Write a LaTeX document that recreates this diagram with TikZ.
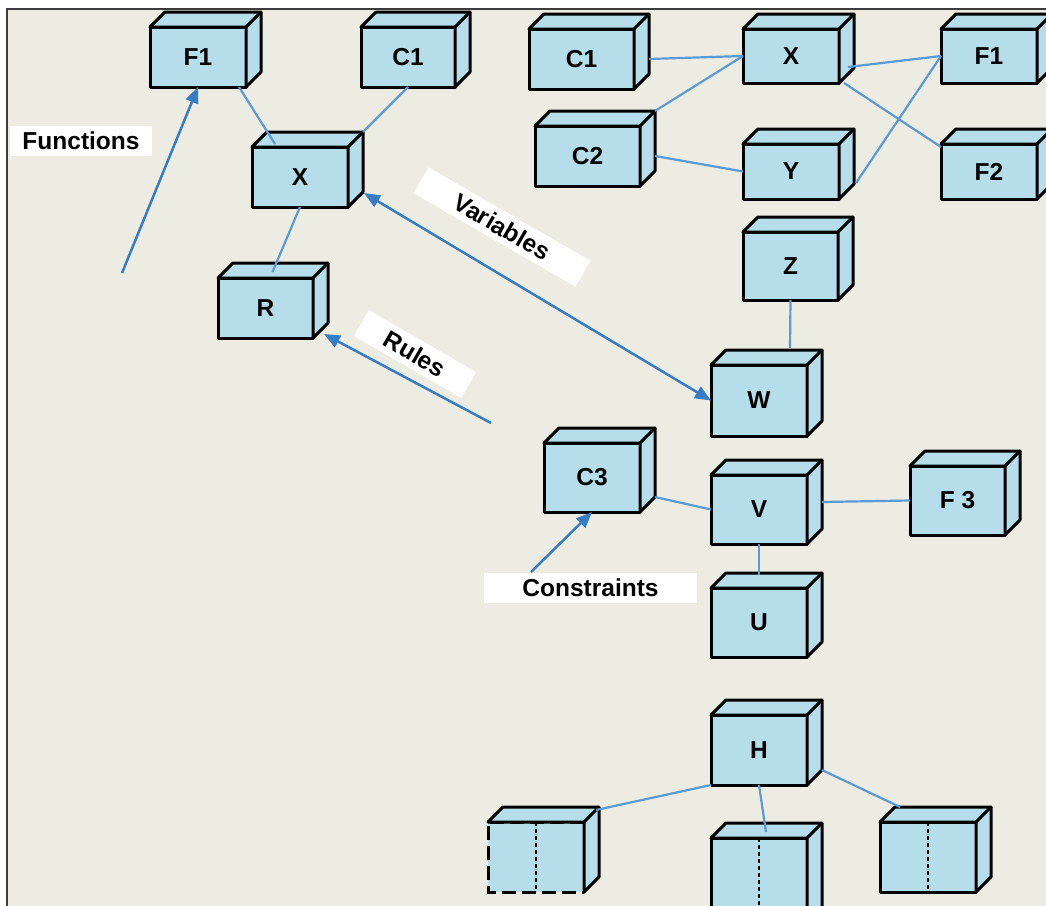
\documentclass[tikz,border=0pt]{standalone}
\usepackage{fontspec}
\setmainfont{Liberation Sans}
\usetikzlibrary{arrows.meta,calc}
\definecolor{bgbeige}{RGB}{237,236,226}
\definecolor{boxfill}{RGB}{181,221,234}
\definecolor{linkblue}{RGB}{91,155,213}
\definecolor{arrowblue}{RGB}{55,125,195}
\definecolor{framegray}{RGB}{60,60,60}
\tikzset{
  front/.style={draw=black, fill=boxfill, line width=3pt, rectangle, inner sep=0pt, outer sep=0pt,
    font=\fontsize{24.5}{28}\selectfont\bfseries, line join=round},
  frontbare/.style={fill=boxfill, rectangle, inner sep=0pt, outer sep=0pt,
    font=\fontsize{24.5}{28}\selectfont\bfseries},
  faces/.style={draw=black, fill=boxfill, line width=3pt, line join=round},
  edgeline/.style={draw=black, line width=3pt, line cap=round},
  link/.style={draw=linkblue, line width=2.2pt},
  pointer/.style={draw=arrowblue, line width=2.5pt, -{Triangle[length=16pt,width=13pt]}},
  dpointer/.style={draw=arrowblue, line width=2.5pt, {Triangle[length=16pt,width=13pt]}-{Triangle[length=16pt,width=13pt]}},
  tag/.style={fill=white, inner sep=0pt, font=\fontsize{24.5}{28}\selectfont\bfseries},
  midline/.style={draw=black, line width=2.8pt, dash pattern=on 4pt off 3pt},
}
\newcommand\sidefaces[1]{%
  \path[faces] (#1.north west) -- ++(15pt,15pt) -- ([shift={(15pt,15pt)}]#1.north east)
    -- ([shift={(15pt,15pt)}]#1.south east) -- (#1.south east) -- (#1.north east) -- cycle;
  \draw[edgeline] (#1.north east) -- ++(15pt,15pt);
}
\newcommand\cubeat[6]{%
  \node[front, minimum width={(#4-#2)*1pt}, minimum height={(#5-#3)*1pt}] (#1) at ({(#2+#4)/2},{(#3+#5)/2}) {#6};
  \sidefaces{#1}%
}
\begin{document}
\begin{tikzpicture}[x=1pt,y=-1pt]
\useasboundingbox (0,0) rectangle (1046,905);
\clip (0,0) rectangle (1046,905);
\fill[white] (0,0) rectangle (1046,905);
\fill[bgbeige] (7,9) rectangle (1050,910);
\draw[framegray, line width=2pt] (7,910) -- (7,9) -- (1050,9);

% left group
\cubeat{f1l}{150}{27}{246}{87}{F1}
\cubeat{c1l}{361}{27}{455}{87}{C1}
\cubeat{xl}{252}{147}{348}{207}{X}
\cubeat{r}{218}{278}{313}{338}{R}

% top right group
\cubeat{c1r}{529}{29}{634}{89}{C1}
\cubeat{xr}{743}{29}{839}{83}{X}
\cubeat{f1r}{941}{29}{1037}{83}{F1}
\cubeat{c2}{535}{126}{640}{186}{C2}
\cubeat{ny}{743}{144}{839}{199}{Y}
\cubeat{f2}{941}{144}{1037}{199}{F2}

% middle column
\cubeat{z}{743}{232}{838}{300}{Z}
\cubeat{w}{711}{365}{807}{436}{W}
\cubeat{c3}{544}{443}{640}{512}{C3}
\cubeat{v}{711}{475}{807}{544}{V}
\cubeat{f3}{910}{466}{1005}{535}{F 3}
\cubeat{u}{711}{588}{807}{657}{U}

% bottom group
\cubeat{h}{711}{715}{807}{785}{H}
\node[frontbare, minimum width=96pt, minimum height=70pt] (bl) at (536,857) {};
\draw[edgeline, line cap=butt, dash pattern=on 14pt off 6pt] (bl.north east) -- (bl.north west) -- (bl.south west) -- (bl.south east);
\draw[edgeline] (bl.south east) -- (bl.north east);
\sidefaces{bl}
\draw[midline] (bl.north) -- (bl.south);
\cubeat{bm}{711}{838}{807}{930}{}
\draw[midline] (bm.north) -- (bm.south);
\cubeat{br}{880}{822}{976}{892}{}
\draw[midline] (br.north) -- (br.south);

% connectors left
\draw[link] ([xshift=-7pt]f1l.south east) -- ([xshift=23pt,yshift=3pt]xl.north west);
\draw[link] (c1l.south) -- ([shift={(15pt,15pt)}]xl.north east);
\draw[link] (xl.south) -- ([shift={(7pt,6pt)}]r.north);

% connectors top right
\draw[link] ([xshift=15pt]c1r.east) -- (xr.west);
\draw[link] ([shift={(15pt,15pt)}]c2.north east) -- (xr.west);
\draw[link] ([xshift=15pt]c2.east) -- (ny.west);
\draw[link] ([xshift=9pt,yshift=-11pt]xr.east) -- (f1r.west);
\draw[link] ([xshift=5pt]xr.south east) -- ([yshift=-3pt]f2.north west);
\draw[link] ([shift={(17pt,16pt)}]ny.south east) -- (f1r.west);

% connectors middle
\draw[link] (z.south) -- ([shift={(31pt,17pt)}]w.north);
\draw[link] ([shift={(15pt,15pt)}]c3.south east) -- (v.west);
\draw[link] ([xshift=15pt,yshift=7.5pt]v.east) -- (f3.west);
\draw[link] (v.south) -- ([yshift=13pt]u.north);

% connectors bottom
\draw[link] (h.south west) -- ([shift={(12pt,12pt)}]bl.north east);
\draw[link] (h.south) -- ([shift={(7pt,6pt)}]bm.north);
\draw[link] ([shift={(15pt,15pt)}]h.south east) -- ([shift={(20pt,15pt)}]br.north west);

% labels
\node[tag, minimum width=142pt, minimum height=30pt] (tfun) at (81,141) {Functions};
\node[tag, minimum width=187pt, minimum height=30pt, rotate=-30] (tvar) at (502,227) {Variables};
\node[tag, minimum width=124pt, minimum height=30pt, rotate=-30] (trul) at (415,354) {Rules};
\node[tag, minimum width=213pt, minimum height=30pt] (tcon) at (590.5,588) {Constraints};

% pointers
\coordinate (funstart) at (122,273);
\coordinate (rulstart) at (491,423);
\coordinate (constart) at (531,572);
\draw[pointer] (funstart) -- (f1l.south);
\draw[dpointer] ([shift={(16pt,14pt)}]xl.south east) -- (w.west);
\draw[pointer] (rulstart) -- ([shift={(11pt,4pt)}]r.south east);
\draw[pointer] (constart) -- (c3.south);
\end{tikzpicture}
\end{document}
